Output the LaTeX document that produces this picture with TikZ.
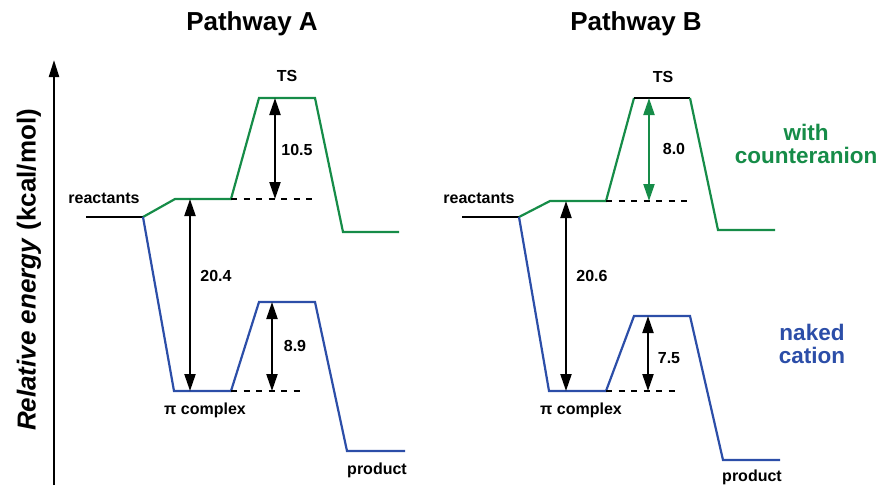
\documentclass[tikz,border=0pt]{standalone}
\usepackage{fontspec}
\setmainfont{Liberation Sans}
\usetikzlibrary{arrows.meta}
\definecolor{cgreen}{RGB}{22,140,72}
\definecolor{cblue}{RGB}{44,78,168}
\tikzset{
  every picture/.style={x=1pt,y=-1pt},
  greenline/.style={draw=cgreen,line width=2.2pt,line join=miter},
  blueline/.style={draw=cblue,line width=2.2pt,line join=miter},
  blackline/.style={draw=black,line width=2.2pt},
  dashline/.style={draw=black,line width=2.2pt,dash pattern=on 6pt off 6.5pt},
  dimarrow/.style={line width=2.2pt,{Triangle[length=17pt,width=11pt]}-{Triangle[length=17pt,width=11pt]}},
  lab/.style={font=\bfseries\fontsize{16}{18}\selectfont,inner sep=0pt},
  title/.style={font=\bfseries\fontsize{26}{30}\selectfont,inner sep=0pt},
  series/.style={font=\bfseries\fontsize{22.5}{26}\selectfont,inner sep=0pt,align=center}
}
\begin{document}
\begin{tikzpicture}
\useasboundingbox (0,0) rectangle (881,485);

% energy axis
\coordinate (axbot) at (54,485);
\coordinate (axtop) at (54,60);
\draw[line width=2.2pt,-{Triangle[length=17pt,width=10pt]}] (axbot) -- (axtop);
\node[font=\bfseries\fontsize{26}{30}\selectfont,rotate=90,inner sep=0pt] (axlab) at (29,270) {\textit{Relative energy} (kcal/mol)};

% titles
\node[title] (tA) at (252,24) {Pathway A};
\node[title] (tB) at (636,24) {Pathway B};

% ---------- Pathway A ----------
\coordinate (aR0) at (86,217);  \coordinate (aR1) at (143,217);
\coordinate (aG1) at (175,199); \coordinate (aG2) at (231,199);
\coordinate (aG3) at (259,98);  \coordinate (aG4) at (315,98);
\coordinate (aG5) at (343,232); \coordinate (aG6) at (399,232);
\coordinate (aB1) at (174,391); \coordinate (aB2) at (231,391);
\coordinate (aB3) at (259,302); \coordinate (aB4) at (315,302);
\coordinate (aB5) at (347,451); \coordinate (aB6) at (405,451);
\coordinate (aD1) at (317,199); \coordinate (aD2) at (303,391);

\draw[blackline] (aR0) -- (aR1);
\draw[greenline] (aR1) -- (aG1) -- (aG2) -- (aG3) -- (aG4) -- (aG5) -- (aG6);
\draw[blueline] (aR1) -- (aB1) -- (aB2) -- (aB3) -- (aB4) -- (aB5) -- (aB6);
\draw[dashline] (aG2) -- (aD1);
\draw[dashline] (aB2) -- (aD2);

\coordinate (aA1t) at (190,199); \coordinate (aA1b) at (190,391);
\coordinate (aA2t) at (275,98);  \coordinate (aA2b) at (275,199);
\coordinate (aA3t) at (272,302); \coordinate (aA3b) at (272,391);
\draw[dimarrow] (aA1t) -- (aA1b);
\draw[dimarrow] (aA2t) -- (aA2b);
\draw[dimarrow] (aA3t) -- (aA3b);

\node[lab] (aReact) at (104,198) {reactants};
\node[lab] (aTS) at (287,76) {TS};
\node[lab] (aE1) at (216,276) {20.4};
\node[lab] (aE2) at (297,150) {10.5};
\node[lab] (aE3) at (295,346) {8.9};
\node[lab] (aPi) at (205,410) {π complex};
\node[lab] (aProd) at (377,470) {product};

% ---------- Pathway B ----------
\coordinate (bR0) at (462,217); \coordinate (bR1) at (519,217);
\coordinate (bG1) at (550,201); \coordinate (bG2) at (606,201);
\coordinate (bG3) at (634,98);  \coordinate (bG4) at (690,98);
\coordinate (bG5) at (718,230); \coordinate (bG6) at (775,230);
\coordinate (bB1) at (549,391); \coordinate (bB2) at (606,391);
\coordinate (bB3) at (634,316); \coordinate (bB4) at (690,316);
\coordinate (bB5) at (723,460); \coordinate (bB6) at (780,460);
\coordinate (bD1) at (692,201); \coordinate (bD2) at (678,391);

\draw[blackline] (bR0) -- (bR1);
\draw[greenline] (bR1) -- (bG1) -- (bG2) -- (bG3);
\draw[blackline] (bG3) -- (bG4);
\draw[greenline] (bG4) -- (bG5) -- (bG6);
\draw[blueline] (bR1) -- (bB1) -- (bB2) -- (bB3) -- (bB4) -- (bB5) -- (bB6);
\draw[dashline] (bG2) -- (bD1);
\draw[dashline] (bB2) -- (bD2);

\coordinate (bA1t) at (566,201); \coordinate (bA1b) at (566,391);
\coordinate (bA2t) at (649,98);  \coordinate (bA2b) at (649,201);
\coordinate (bA3t) at (648,316); \coordinate (bA3b) at (648,391);
\draw[dimarrow] (bA1t) -- (bA1b);
\draw[dimarrow,cgreen] (bA2t) -- (bA2b);
\draw[dimarrow] (bA3t) -- (bA3b);

\node[lab] (bReact) at (479,198) {reactants};
\node[lab] (bTS) at (663,77) {TS};
\node[lab] (bE1) at (592,276) {20.6};
\node[lab] (bE2) at (674,149) {8.0};
\node[lab] (bE3) at (669,358) {7.5};
\node[lab] (bPi) at (581,410) {π complex};
\node[lab] (bProd) at (752,477) {product};

% series labels
\node[series,text=cgreen] (sGreen) at (806,144) {with\\[-3pt]counteranion};
\node[series,text=cblue] (sBlue) at (812,344) {naked\\[-3pt]cation};
\end{tikzpicture}
\end{document}
